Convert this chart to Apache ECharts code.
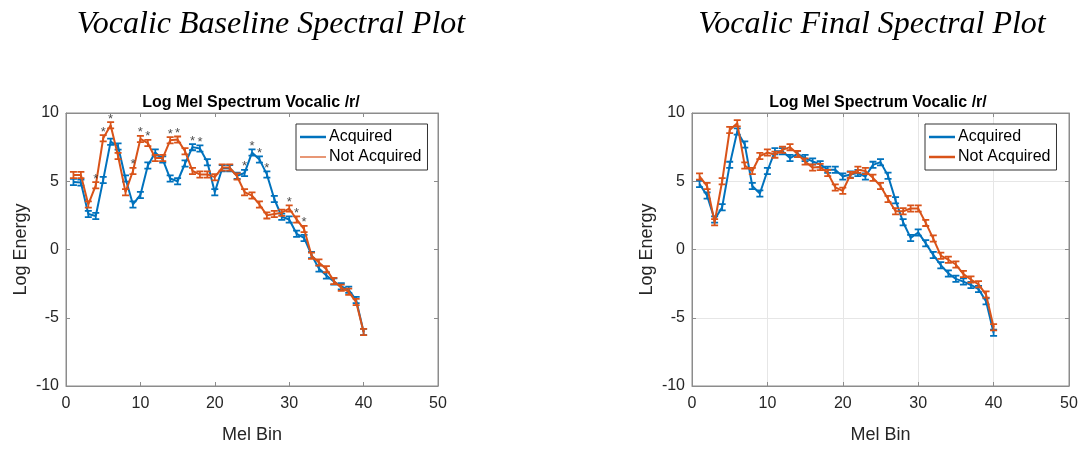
<!DOCTYPE html>
<html><head><meta charset="utf-8">
<script src="https://cdn.jsdelivr.net/npm/echarts@6/dist/echarts.min.js"></script>
<style>html,body{margin:0;padding:0;background:#fff}#c{width:1084px;height:449px}</style>
</head><body><div id="c"></div>
<script>
const bins = [1,2,3,4,5,6,7,8,9,10,11,12,13,14,15,16,17,18,19,20,21,22,23,24,25,26,27,28,29,30,31,32,33,34,35,36,37,38,39,40];
const baselineAcquired = [4.95,4.9,2.6,2.45,5.1,7.9,7.55,5.2,3.3,4.0,6.15,7.1,6.6,5.2,5.0,6.3,7.5,7.4,6.4,4.2,5.95,5.95,5.4,5.6,7.1,6.6,5.5,3.7,2.4,2.2,1.15,0.85,-0.4,-1.4,-1.9,-2.35,-2.7,-2.95,-3.7,-6.05];
const baselineNotAcquired = [5.45,5.45,3.3,4.7,8.15,9.1,6.85,4.2,5.75,8.1,7.8,6.7,6.7,8.0,8.05,7.2,5.75,5.5,5.5,5.3,6.0,6.0,5.35,4.2,3.95,3.3,2.5,2.6,2.7,3.0,2.2,1.5,-0.45,-0.95,-1.45,-2.3,-2.8,-3.1,-3.85,-6.05];
const finalAcquired = [4.8,3.95,2.2,3.1,6.2,8.65,7.7,4.65,4.1,5.75,7.2,7.2,6.7,7.0,6.7,6.45,6.25,5.85,5.85,5.35,5.5,5.6,5.35,6.2,6.4,5.4,3.6,2.0,0.85,1.25,0.45,-0.4,-1.15,-1.75,-2.15,-2.35,-2.6,-2.9,-3.8,-6.1];
const finalNotAcquired = [5.35,4.65,2.0,5.0,8.75,9.25,6.15,5.75,6.85,7.1,6.95,7.3,7.5,7.0,6.45,6.0,6.05,5.6,4.55,4.3,5.45,5.85,5.75,5.25,4.65,3.7,2.8,2.8,3.0,3.0,1.95,0.8,-0.45,-0.75,-1.1,-1.8,-2.2,-2.55,-3.3,-5.7];
const significantBins = [4,5,6,9,10,11,14,15,17,18,24,25,26,27,30,31,32];
const xTicks = {min:0, max:50, interval:10};
const yTicks = {min:-10, max:10, interval:5};
const panelTitles = ['Vocalic Baseline Spectral Plot','Vocalic Final Spectral Plot'];
const chartTitle = 'Log Mel Spectrum Vocalic /r/';
const seriesNames = ['Acquired','Not Acquired'];
const xName = 'Mel Bin', yName = 'Log Energy';

const BLUE = '#0072BD', ORANGE = '#D95319';
const AX = '#8c8c8c', TXT = '#262626';
const SANS = 'Liberation Sans, Arial, sans-serif';
const ibeam = 'path://M0,0H8V2.2H5V7.8H8V10H0V7.8H3V2.2H0Z';

const pair = (arr) => arr.map((v, i) => [bins[i], v]);
const stars = significantBins.map(b => {
  const i = bins.indexOf(b);
  return [b, Math.max(baselineAcquired[i], baselineNotAcquired[i]) + 0.45];
});

const grids = [
  {left: 66, top: 113, width: 372, height: 276},
  {left: 692, top: 113, width: 377, height: 276}
];
const xAxes = [], yAxes = [];
grids.forEach((g, gi) => {
  const showGrid = gi === 1;
  xAxes.push({type:'value', gridIndex:gi, position:'bottom', ...xTicks,
    name: xName, nameLocation:'middle', nameGap: 40,
    nameTextStyle:{fontFamily:SANS, fontSize:18, color:TXT},
    axisLine:{show:true, onZero:false, lineStyle:{color:AX}},
    axisTick:{inside:true, length:4, lineStyle:{color:AX}},
    axisLabel:{fontFamily:SANS, fontSize:16, color:TXT, margin:10},
    splitLine:{show:showGrid, lineStyle:{color:'#e6e6e6'}}});
  xAxes.push({type:'value', gridIndex:gi, position:'top', ...xTicks,
    axisLine:{show:true, onZero:false, lineStyle:{color:AX}},
    axisTick:{inside:true, length:4, lineStyle:{color:AX}},
    axisLabel:{show:false}, splitLine:{show:false}});
  yAxes.push({type:'value', gridIndex:gi, position:'left', ...yTicks,
    name: yName, nameLocation:'middle', nameGap: 36,
    nameTextStyle:{fontFamily:SANS, fontSize:18, color:TXT},
    axisLine:{show:true, onZero:false, lineStyle:{color:AX}},
    axisTick:{show:true, inside:true, length:4, lineStyle:{color:AX}},
    axisLabel:{fontFamily:SANS, fontSize:16, color:TXT, margin:7},
    splitLine:{show:showGrid, lineStyle:{color:'#e6e6e6'}}});
  yAxes.push({type:'value', gridIndex:gi, position:'right', ...yTicks,
    axisLine:{show:true, onZero:false, lineStyle:{color:AX}},
    axisTick:{show:true, inside:true, length:4, lineStyle:{color:AX}},
    axisLabel:{show:false}, splitLine:{show:false}});
});

function lineSeries(name, data, color, gi) {
  return {type:'line', name, data: pair(data), xAxisIndex: gi*2, yAxisIndex: gi*2,
    lineStyle:{color, width:2}, itemStyle:{color},
    symbol: ibeam, symbolSize:[7,8], showSymbol:true, animation:false, z: name === 'Acquired' ? 3 : 4};
}

const series = [
  lineSeries(seriesNames[0], baselineAcquired, BLUE, 0),
  lineSeries(seriesNames[1], baselineNotAcquired, ORANGE, 0),
  lineSeries(seriesNames[0], finalAcquired, BLUE, 1),
  lineSeries(seriesNames[1], finalNotAcquired, ORANGE, 1),
  {type:'scatter', name:'sig', data: stars, xAxisIndex:0, yAxisIndex:0, symbolSize:0,
   label:{show:true, position:'inside', formatter:'*', fontFamily:SANS, fontSize:13, color:'#222'}, z:5, silent:true}
];

const legendBase = {orient:'vertical', backgroundColor:'#fff', borderColor:'#333', borderWidth:1,
  padding:[5,6,5,4], itemGap:4, itemWidth:26, itemHeight:5, symbolKeepAspect:true,
  textStyle:{fontFamily:SANS, fontSize:16, color:'#000', padding:[0,0,0,-2]}, selectedMode:false};

const chart = echarts.init(document.getElementById('c'), null, {renderer:'canvas'});
chart.setOption({
  animation:false,
  backgroundColor:'#fff',
  title:[
    {text: panelTitles[0], left: 266, top: 4, textAlign:'center', textStyle:{fontFamily:'Liberation Serif, Times New Roman, serif', fontStyle:'italic', fontWeight:'normal', fontSize:32, color:'#000'}},
    {text: panelTitles[1], left: 867, top: 4, textAlign:'center', textStyle:{fontFamily:'Liberation Serif, Times New Roman, serif', fontStyle:'italic', fontWeight:'normal', fontSize:32, color:'#000'}},
    {text: chartTitle, left: 246, top: 90, textAlign:'center', textStyle:{fontFamily:SANS, fontWeight:'bold', fontSize:16, color:'#000'}},
    {text: chartTitle, left: 873, top: 90, textAlign:'center', textStyle:{fontFamily:SANS, fontWeight:'bold', fontSize:16, color:'#000'}}
  ],
  grid: grids.map(g => ({...g, show:true, borderColor:AX, borderWidth:1, backgroundColor:'#fff'})),
  xAxis: xAxes,
  yAxis: yAxes,
  legend:[
    {...legendBase, left:296, top:124,
     data:[{name:seriesNames[0], icon:'path://M0,0H26V2.5H0Z', itemStyle:{color:BLUE}},
           {name:seriesNames[1], icon:'path://M0,0H26V1.2H0Z', itemStyle:{color:ORANGE}}]},
    {...legendBase, left:925, top:124,
     data:[{name:seriesNames[0], icon:'path://M0,0H26V2.5H0Z', itemStyle:{color:BLUE}},
           {name:seriesNames[1], icon:'path://M0,0H26V2.5H0Z', itemStyle:{color:ORANGE}}]}
  ],
  series
});
</script></body></html>
